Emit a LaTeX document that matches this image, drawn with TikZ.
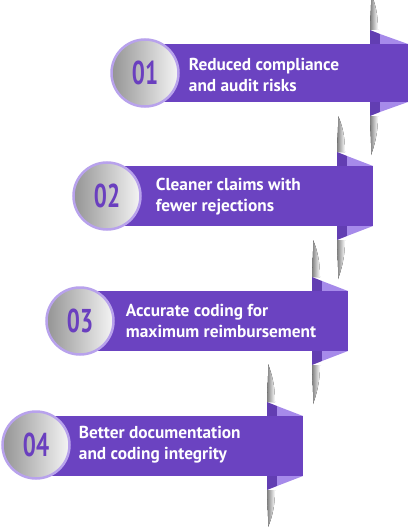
\documentclass[tikz,border=0pt]{standalone}
\usepackage{fontspec}
\setmainfont{PT Sans}
\newfontfamily\numfont[FakeStretch=0.7]{PT Sans}
\usepackage{tikz}
\usepackage{xcolor}
\usetikzlibrary{positioning}

\definecolor{barpurple}{HTML}{6B43C1}
\definecolor{flaplight}{HTML}{A68AEA}
\definecolor{ringpurple}{HTML}{B8A2EC}
\definecolor{numpurple}{HTML}{6A3FBF}

\begin{document}
\begin{tikzpicture}[x=1pt, y=-1pt,
          numcircle/.style={circle, draw=ringpurple, line width=2.5pt, minimum size=67pt, left color=black!42, right color=black!4, text=numpurple, font=\numfont\bfseries\fontsize{33}{33}\selectfont},
          desc/.style={align=left, inner sep=0pt, text=white, font=\bfseries\fontsize{17.3}{21}\selectfont},
          band/.style={fill=barpurple},
          flapdark/.style={fill=barpurple!92!black},
          flaplite/.style={fill=flaplight},
          blade/.style={left color=black!50, right color=white}
      ]
        \useasboundingbox (0,0) rectangle (407,527);

        % row 01
        \fill[blade] (370,30) -- (378,30) .. controls (378,14) and (375,2) .. (371,-6) .. controls (371.5,6) and (370,18) .. cycle;
        \fill[blade] (370,116) -- (378,116) .. controls (378,132) and (375,144) .. (371,155) .. controls (371.5,142) and (370,128) .. cycle;
        \fill[flapdark] (370,30) -- (380,34) -- (380,112) -- (370,116) -- cycle;
        \fill[flaplite] (380,34) -- (408,44) -- (380,44) -- cycle;
        \fill[flaplite] (380,112) -- (408,102) -- (380,102) -- cycle;
        \fill[band] (145,44) rectangle (408,102);
        \node[numcircle] (c1) at (145,73) {01};
        \node[desc, right=9pt of c1, yshift=-2pt] (t1) {Reduced compliance\\and audit risks};

        % row 02
        \fill[blade] (337,152) -- (345,152) .. controls (345,136) and (342,124) .. (338,116) .. controls (338.5,128) and (337,140) .. cycle;
        \fill[blade] (337,240) -- (345,240) .. controls (345,256) and (342,268) .. (338,279) .. controls (338.5,266) and (337,252) .. cycle;
        \fill[flapdark] (337,152) -- (347,156) -- (347,236) -- (337,240) -- cycle;
        \fill[flaplite] (347,156) -- (373,166) -- (347,166) -- cycle;
        \fill[flaplite] (347,236) -- (373,226) -- (347,226) -- cycle;
        \fill[band] (107,166) rectangle (373,226);
        \node[numcircle] (c2) at (107,196) {02};
        \node[desc, right=14pt of c2, yshift=-1pt] (t2) {Cleaner claims with\\fewer rejections};

        % row 03
        \fill[blade] (312,277) -- (320,277) .. controls (320,261) and (317,249) .. (313,240) .. controls (313.5,253) and (312,265) .. cycle;
        \fill[blade] (312,365) -- (320,365) .. controls (320,381) and (317,393) .. (313,404) .. controls (313.5,391) and (312,377) .. cycle;
        \fill[flapdark] (312,277) -- (322,281) -- (322,361) -- (312,365) -- cycle;
        \fill[flaplite] (322,281) -- (348,291) -- (322,291) -- cycle;
        \fill[flaplite] (322,361) -- (348,351) -- (322,351) -- cycle;
        \fill[band] (80,291) rectangle (348,351);
        \node[numcircle] (c3) at (80,321) {03};
        \node[desc, right=11pt of c3] (t3) {Accurate coding for\\maximum reimbursement};

        % row 04
        \fill[blade] (267,402) -- (275,402) .. controls (275,386) and (272,374) .. (268,364) .. controls (268.5,378) and (267,390) .. cycle;
        \fill[blade] (267,490) -- (275,490) .. controls (275,506) and (272,518) .. (268,527) .. controls (268.5,516) and (267,502) .. cycle;
        \fill[flapdark] (267,402) -- (277,406) -- (277,486) -- (267,490) -- cycle;
        \fill[flaplite] (277,406) -- (303,416) -- (277,416) -- cycle;
        \fill[flaplite] (277,486) -- (303,476) -- (277,476) -- cycle;
        \fill[band] (36,416) rectangle (303,476);
        \node[numcircle] (c4) at (36,445) {04};
        \node[desc, right=8pt of c4] (t4) {Better documentation\\and coding integrity};
      \end{tikzpicture}
\end{document}
